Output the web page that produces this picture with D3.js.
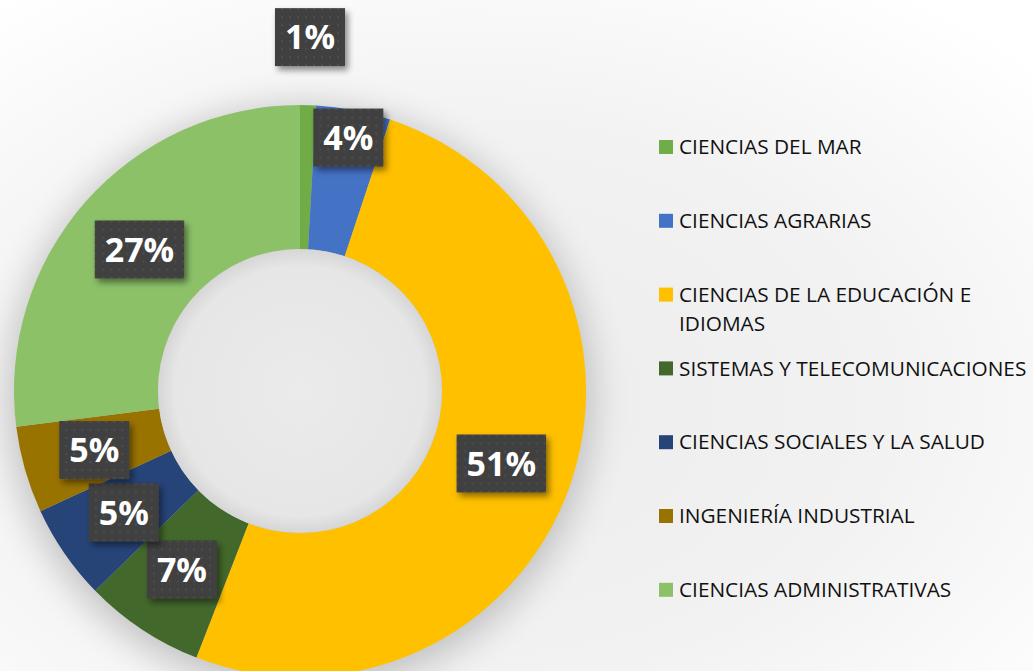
<!DOCTYPE html>
<html>
<head>
<meta charset="utf-8">
<script src="https://cdn.jsdelivr.net/npm/d3@7"></script>
<style>
  html, body { margin: 0; padding: 0; overflow: hidden; }
  svg { display: block; }
</style>
</head>
<body>
<svg id="chart" width="1033" height="671"></svg>
<script>
// Data (share of total, %)
const categories = [
    'CIENCIAS DEL MAR',
    'CIENCIAS AGRARIAS',
    'CIENCIAS DE LA EDUCACIÓN E IDIOMAS',
    'SISTEMAS Y TELECOMUNICACIONES',
    'CIENCIAS SOCIALES Y LA SALUD',
    'INGENIERÍA INDUSTRIAL',
    'CIENCIAS ADMINISTRATIVAS'
];
const values = [0.9, 4.2, 50.8, 6.8, 5.4, 4.9, 27.0];
const colors = ['#70ad47', '#4472c4', '#ffc000', '#43682b', '#264478', '#997300', '#8cc168'];

const svg = d3.select('#chart');
const W = 1033, H = 671;
const cx = 300, cy = 391;
const outerR = 286, innerR = 142;

const defs = svg.append('defs');

// page background
const bg = defs.append('radialGradient').attr('id', 'bg')
    .attr('cx', '0.45').attr('cy', '0.6').attr('r', '0.75');
bg.append('stop').attr('offset', '0%').attr('stop-color', '#ececec');
bg.append('stop').attr('offset', '55%').attr('stop-color', '#f2f2f2');
bg.append('stop').attr('offset', '100%').attr('stop-color', '#ffffff');

// donut hole
const hole = defs.append('radialGradient').attr('id', 'hole');
hole.append('stop').attr('offset', '0%').attr('stop-color', '#ebebeb');
hole.append('stop').attr('offset', '88%').attr('stop-color', '#e6e6e6');
hole.append('stop').attr('offset', '100%').attr('stop-color', '#d6d6d6');

// soft shadow around the ring
defs.append('filter').attr('id', 'ringShadow')
    .attr('x', '-30%').attr('y', '-30%').attr('width', '160%').attr('height', '160%')
    .append('feGaussianBlur').attr('stdDeviation', 18);

// label box shadow
const lblShadow = defs.append('filter').attr('id', 'lblShadow')
    .attr('x', '-20%').attr('y', '-20%').attr('width', '150%').attr('height', '150%');
lblShadow.append('feDropShadow')
    .attr('dx', 3).attr('dy', 4).attr('stdDeviation', 3)
    .attr('flood-color', '#000').attr('flood-opacity', 0.45);

// dotted texture of the label boxes
const pat = defs.append('pattern').attr('id', 'dots')
    .attr('width', 8).attr('height', 8).attr('patternUnits', 'userSpaceOnUse');
pat.append('rect').attr('width', 8).attr('height', 8).attr('fill', '#3f3f3f');
pat.append('circle').attr('cx', 4).attr('cy', 4).attr('r', 1.3).attr('fill', '#4d4d4d');

svg.append('rect').attr('width', W).attr('height', H).attr('fill', 'url(#bg)');

const g = svg.append('g').attr('transform', `translate(${cx},${cy})`);

g.append('circle').attr('r', outerR + 6).attr('cy', 8)
    .attr('fill', '#000').attr('opacity', 0.2)
    .attr('filter', 'url(#ringShadow)');

const pie = d3.pie().sort(null).value(d => d);
const arcs = pie(values);
const arc = d3.arc().innerRadius(innerR).outerRadius(outerR);

g.selectAll('path.slice')
    .data(arcs)
    .join('path')
    .attr('class', 'slice')
    .attr('d', arc)
    .attr('fill', (d, i) => colors[i]);

g.append('circle').attr('r', innerR).attr('fill', 'url(#hole)');

// data labels: centred in the ring, small slices pushed outward
const total = d3.sum(values);
function labelRadius(d) {
    const share = d.value / total * 100;
    if (share < 2) return outerR + 68;
    if (share < 4.5) return outerR - 28;
    return (innerR + outerR) / 2;
}
const labels = g.selectAll('g.lbl')
    .data(arcs)
    .join('g')
    .attr('class', 'lbl')
    .attr('transform', d => {
        const a = (d.startAngle + d.endAngle) / 2;
        const r = labelRadius(d);
        return `translate(${r * Math.sin(a)},${-r * Math.cos(a)})`;
    });

labels.each(function (d) {
    const sel = d3.select(this);
    const txt = Math.round(d.value / total * 100) + '%';
    const t = sel.append('text')
        .attr('text-anchor', 'middle')
        .attr('dy', '0.36em')
        .attr('font-family', 'Open Sans, sans-serif')
        .attr('font-weight', 700)
        .attr('font-size', 34)
        .attr('fill', '#ffffff')
        .text(txt);
    const w = t.node().getComputedTextLength() + 20;
    const h = 58;
    sel.insert('rect', 'text')
        .attr('x', -w / 2).attr('y', -h / 2)
        .attr('width', w).attr('height', h)
        .attr('fill', 'url(#dots)')
        .attr('filter', 'url(#lblShadow)');
});

// legend
const legendX = 659;
const legendY0 = 147, legendStep = 73.8;
const legend = svg.append('g')
    .selectAll('g')
    .data(categories)
    .join('g')
    .attr('transform', (d, i) => `translate(${legendX},${legendY0 + i * legendStep})`);

legend.append('rect')
    .attr('x', 0).attr('y', -7)
    .attr('width', 14).attr('height', 14)
    .attr('fill', (d, i) => colors[i]);

legend.append('text')
    .attr('x', 20)
    .attr('font-family', 'Open Sans, sans-serif')
    .attr('font-size', 20.8)
    .attr('fill', '#111')
    .each(function (d) {
        const t = d3.select(this);
        // the long label wraps on two lines as in the original
        const lines = d === 'CIENCIAS DE LA EDUCACIÓN E IDIOMAS'
            ? ['CIENCIAS DE LA EDUCACIÓN E', 'IDIOMAS']
            : [d];
        lines.forEach((line, k) => {
            t.append('tspan')
                .attr('x', 20)
                .attr('dy', k === 0 ? '0.35em' : 29)
                .text(line);
        });
    });
</script>
</body>
</html>
